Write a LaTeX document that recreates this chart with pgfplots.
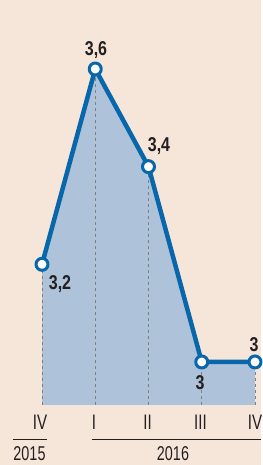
\documentclass[border=0pt]{standalone}
\usepackage{pgfplots}
\pgfplotsset{compat=1.18}
\usepackage{fontspec}
\setmainfont{Liberation Sans}
\newfontfamily\condb[FakeStretch=0.8]{Liberation Sans Bold}
\newfontfamily\condr[FakeStretch=0.72]{Liberation Sans}
\definecolor{bg}{HTML}{F6E6DA}
\definecolor{areab}{HTML}{AEC3DA}
\definecolor{lineb}{HTML}{0867AA}
\definecolor{txt}{HTML}{231F20}
\begin{document}
\begin{tikzpicture}
\begin{axis}[
  scale only axis, width=261pt, height=465pt,
  xmin=-0.789, xmax=4.113, ymin=2.789, ymax=3.7413,
  axis lines=none, clip=false,
  axis background/.style={fill=bg},
]
\addplot[fill=areab, draw=none] coordinates {(0,2.912) (0,3.2) (1,3.6) (2,3.4) (3,3.0) (4,3.0) (4,2.912)} -- cycle;
\addplot[gray, dashed, line width=0.8pt] coordinates {(0,2.912) (0,3.2)};
\addplot[gray, dashed, line width=0.8pt] coordinates {(1,2.912) (1,3.6)};
\addplot[gray, dashed, line width=0.8pt] coordinates {(2,2.912) (2,3.4)};
\addplot[gray, dashed, line width=0.8pt] coordinates {(3,2.912) (3,3.0)};
\addplot[gray, dashed, line width=0.8pt] coordinates {(4,2.912) (4,3.0)};
\addplot[lineb, line width=4.5pt, line join=round, mark=*, mark size=6pt,
  mark options={fill=white, draw=lineb, line width=3pt}]
  coordinates {(0,3.2) (1,3.6) (2,3.4) (3,3.0) (4,3.0)};
% data labels
\begin{scope}[every node/.style={text=txt, font=\condb\fontsize{20}{21}\selectfont, inner sep=0pt}]
\node at (rel axis cs:{96/261},{1-50/465}) {3,6};
\node at (rel axis cs:{159/261},{1-146/465}) {3,4};
\node at (rel axis cs:{60/261},{1-284/465}) {3,2};
\node at (rel axis cs:{200/261},{1-383/465}) {3};
\node at (rel axis cs:{254/261},{1-345/465}) {3};
\end{scope}
% tick labels
\begin{scope}[every node/.style={text=txt, font=\condr\fontsize{21}{22}\selectfont, inner sep=0pt}]
\node at (rel axis cs:{40/261},{1-422.5/465}) {IV};
\node at (rel axis cs:{94/261},{1-422.5/465}) {I};
\node at (rel axis cs:{147.5/261},{1-422.5/465}) {II};
\node at (rel axis cs:{200.5/261},{1-422.5/465}) {III};
\node at (rel axis cs:{255/261},{1-422.5/465}) {IV};
\end{scope}
\begin{scope}[every node/.style={text=txt, font=\condr\fontsize{20}{21}\selectfont, inner sep=0pt}]
\node at (rel axis cs:{29.5/261},{1-454/465}) {2015};
\node at (rel axis cs:{173/261},{1-454/465}) {2016};
\end{scope}
\draw[txt, line width=1pt] (rel axis cs:{13/261},{1-440/465}) -- (rel axis cs:{47/261},{1-440/465});
\draw[txt, line width=1pt] (rel axis cs:{92/261},{1-440/465}) -- (rel axis cs:1,{1-440/465});
\end{axis}
\end{tikzpicture}
\end{document}
